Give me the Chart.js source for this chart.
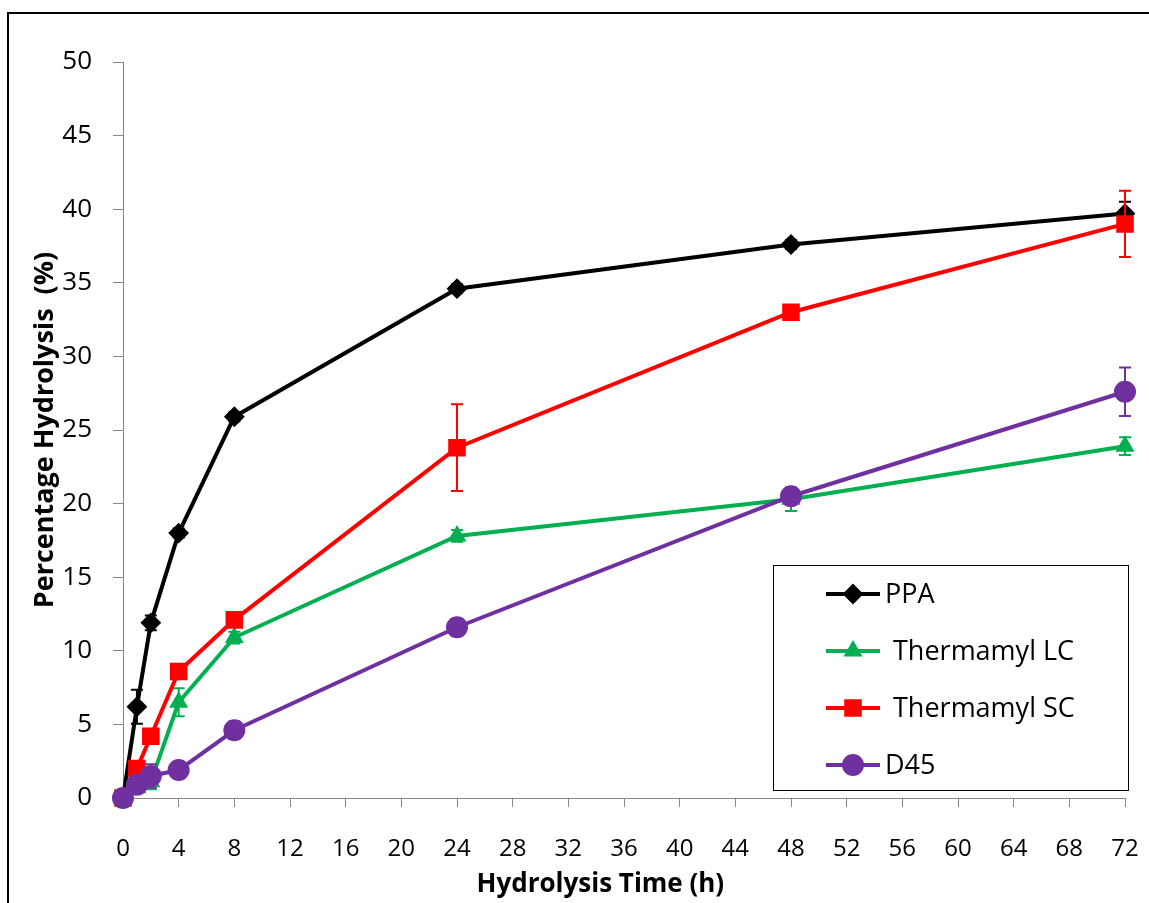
<!DOCTYPE html>
<html>
<head>
<meta charset="utf-8">
<script src="https://cdn.jsdelivr.net/npm/chart.js@4.4.0/dist/chart.umd.min.js"></script>
<style>
  html, body { margin: 0; padding: 0; background: #fff; overflow: hidden; }
  #wrap { position: relative; width: 1149px; height: 903px; overflow: hidden; }
  #frame { position: absolute; left: 7px; top: 12px; width: 1300px; height: 1000px;
           border-left: 2px solid #000; border-top: 2px solid #000; pointer-events: none; }
</style>
</head>
<body>
<div id="wrap">
  <canvas id="chart" width="1149" height="903"></canvas>
  <div id="frame"></div>
</div>
<script>
// hydrolysis time (h)
const hours = [0, 1, 2, 4, 8, 24, 48, 72];

// percentage hydrolysis per enzyme, with error bar half-lengths
const ppa    = [0, 6.2, 11.9, 18.0, 25.9, 34.6, 37.6, 39.7];
const ppaErr = [0, 1.15, 0.5, 0.3, 0.3, 0.3, 0.3, 0.8];
const lc     = [0, 0.7, 1.1, 6.5, 10.9, 17.8, 20.3, 23.9];
const lcErr  = [0, 0.3, 0.5, 0.95, 0.4, 0.4, 0.8, 0.6];
const sc     = [0, 2.0, 4.2, 8.6, 12.1, 23.8, 33.0, 39.0];
const scErr  = [0, 0.3, 0.4, 0.4, 0.4, 2.95, 0.4, 2.25];
const d45    = [0, 0.9, 1.5, 1.9, 4.6, 11.6, 20.5, 27.6];
const d45Err = [0, 0.4, 0.8, 0.5, 0.6, 0.4, 0.5, 1.65];

const seriesNames = ['PPA', 'Thermamyl LC', 'Thermamyl SC', 'D45'];
const xTicks = [0, 72, 4];   // min, max, step
const yTicks = [0, 50, 5];

const FONT = "'Open Sans', 'Liberation Sans', sans-serif";
Chart.defaults.font.family = FONT;

function pts(vals) {
    return hours.map((h, i) => ({ x: h, y: vals[i] }));
}

function makeSet(label, vals, errs, color, style, radius, order) {
    return {
        label: label,
        data: pts(vals),
        errors: errs,
        borderColor: color,
        backgroundColor: color,
        borderWidth: 4,
        pointStyle: style,
        pointRadius: radius,
        pointBorderWidth: 2,
        pointBackgroundColor: color,
        pointBorderColor: color,
        tension: 0,
        clip: false,
        order: order
    };
}

// error bars, drawn under each series' markers
const errorBars = {
    id: 'errorBars',
    beforeDatasetDraw(chart, args) {
        const ds = chart.data.datasets[args.index];
        if (!ds.errors) return;
        const yScale = chart.scales.y;
        const ctx = chart.ctx;
        ctx.save();
        ctx.strokeStyle = ds.borderColor;
        ctx.lineWidth = 2;
        args.meta.data.forEach((p, i) => {
            const e = ds.errors[i];
            if (!e) return;
            const v = ds.data[i].y;
            const top = yScale.getPixelForValue(v + e);
            const bot = yScale.getPixelForValue(v - e);
            ctx.beginPath();
            ctx.moveTo(p.x, top); ctx.lineTo(p.x, bot);
            ctx.moveTo(p.x - 6, top); ctx.lineTo(p.x + 6, top);
            ctx.moveTo(p.x - 6, bot); ctx.lineTo(p.x + 6, bot);
            ctx.stroke();
        });
        ctx.restore();
    }
};

// boxed legend in the lower right of the plot
const boxLegend = {
    id: 'boxLegend',
    afterDraw(chart) {
        const ctx = chart.ctx;
        const area = chart.chartArea;
        const bx = area.right - 352, by = area.bottom - 233, bw = 355, bh = 225;
        ctx.save();
        ctx.fillStyle = '#fff';
        ctx.fillRect(bx, by, bw, bh);
        ctx.strokeStyle = '#000';
        ctx.lineWidth = 1;
        ctx.strokeRect(bx + 0.5, by + 0.5, bw, bh);
        [0, 1, 2, 3].forEach((k, r) => {
            const ds = chart.data.datasets[k];
            const y = by + 29 + r * 57;
            ctx.strokeStyle = ds.borderColor;
            ctx.lineWidth = 4;
            ctx.beginPath();
            ctx.moveTo(bx + 53, y); ctx.lineTo(bx + 107, y);
            ctx.stroke();
            ctx.fillStyle = ds.backgroundColor;
            ctx.lineWidth = 2;
            Chart.helpers.drawPoint(ctx, {
                pointStyle: ds.pointStyle, radius: ds.pointRadius,
                borderWidth: 2, rotation: 0
            }, bx + 80, y);
            ctx.fillStyle = '#000';
            ctx.font = '27px ' + FONT;
            ctx.textBaseline = 'middle';
            ctx.textAlign = 'left';
            ctx.fillText(ds.label, bx + (k === 0 || k === 3 ? 112 : 120), y + 1);
        });
        ctx.restore();
    }
};

const datasets = [
    makeSet(seriesNames[0], ppa, ppaErr, '#000000', 'rectRot', 9, 4),
    makeSet(seriesNames[1], lc, lcErr, '#00B050', 'triangle', 9, 3),
    makeSet(seriesNames[2], sc, scErr, '#FF0000', 'rect', 11, 2),
    makeSet(seriesNames[3], d45, d45Err, '#7030A0', 'circle', 10, 1)
];

const axisGray = '#868686';

new Chart(document.getElementById('chart').getContext('2d'), {
    type: 'line',
    data: { datasets: datasets },
    options: {
        responsive: false,
        animation: false,
        layout: { padding: { left: 0, top: 62, right: 24, bottom: 0 } },
        plugins: { legend: { display: false }, tooltip: { enabled: false } },
        scales: {
            x: {
                type: 'linear',
                min: xTicks[0], max: xTicks[1],
                ticks: { stepSize: xTicks[2], color: '#000', font: { size: 24 },
                         padding: 28, maxRotation: 0, autoSkip: false },
                grid: { drawOnChartArea: false, tickLength: 9, color: axisGray },
                border: { color: axisGray, width: 1 },
                title: { display: true, text: 'Hydrolysis Time (h)       ', color: '#000',
                         font: { size: 26, weight: 'bold' }, padding: { top: 0, bottom: 3 } },
                afterFit(scale) {
                    scale.height = 105;
                    scale.paddingLeft = 0;
                    scale.paddingRight = 0;
                }
            },
            y: {
                min: yTicks[0], max: yTicks[1],
                ticks: { stepSize: yTicks[2], color: '#000', font: { size: 26 }, padding: 21 },
                grid: { drawOnChartArea: false, tickLength: 10, color: axisGray },
                border: { color: axisGray, width: 1 },
                title: { display: true, text: 'Percentage Hydrolysis  (%)', color: '#000',
                         font: { size: 27, weight: 'bold' }, padding: { top: 29, bottom: 0 } },
                afterFit(scale) { scale.width = 123; }
            }
        }
    },
    plugins: [errorBars, boxLegend]
});
</script>
</body>
</html>
